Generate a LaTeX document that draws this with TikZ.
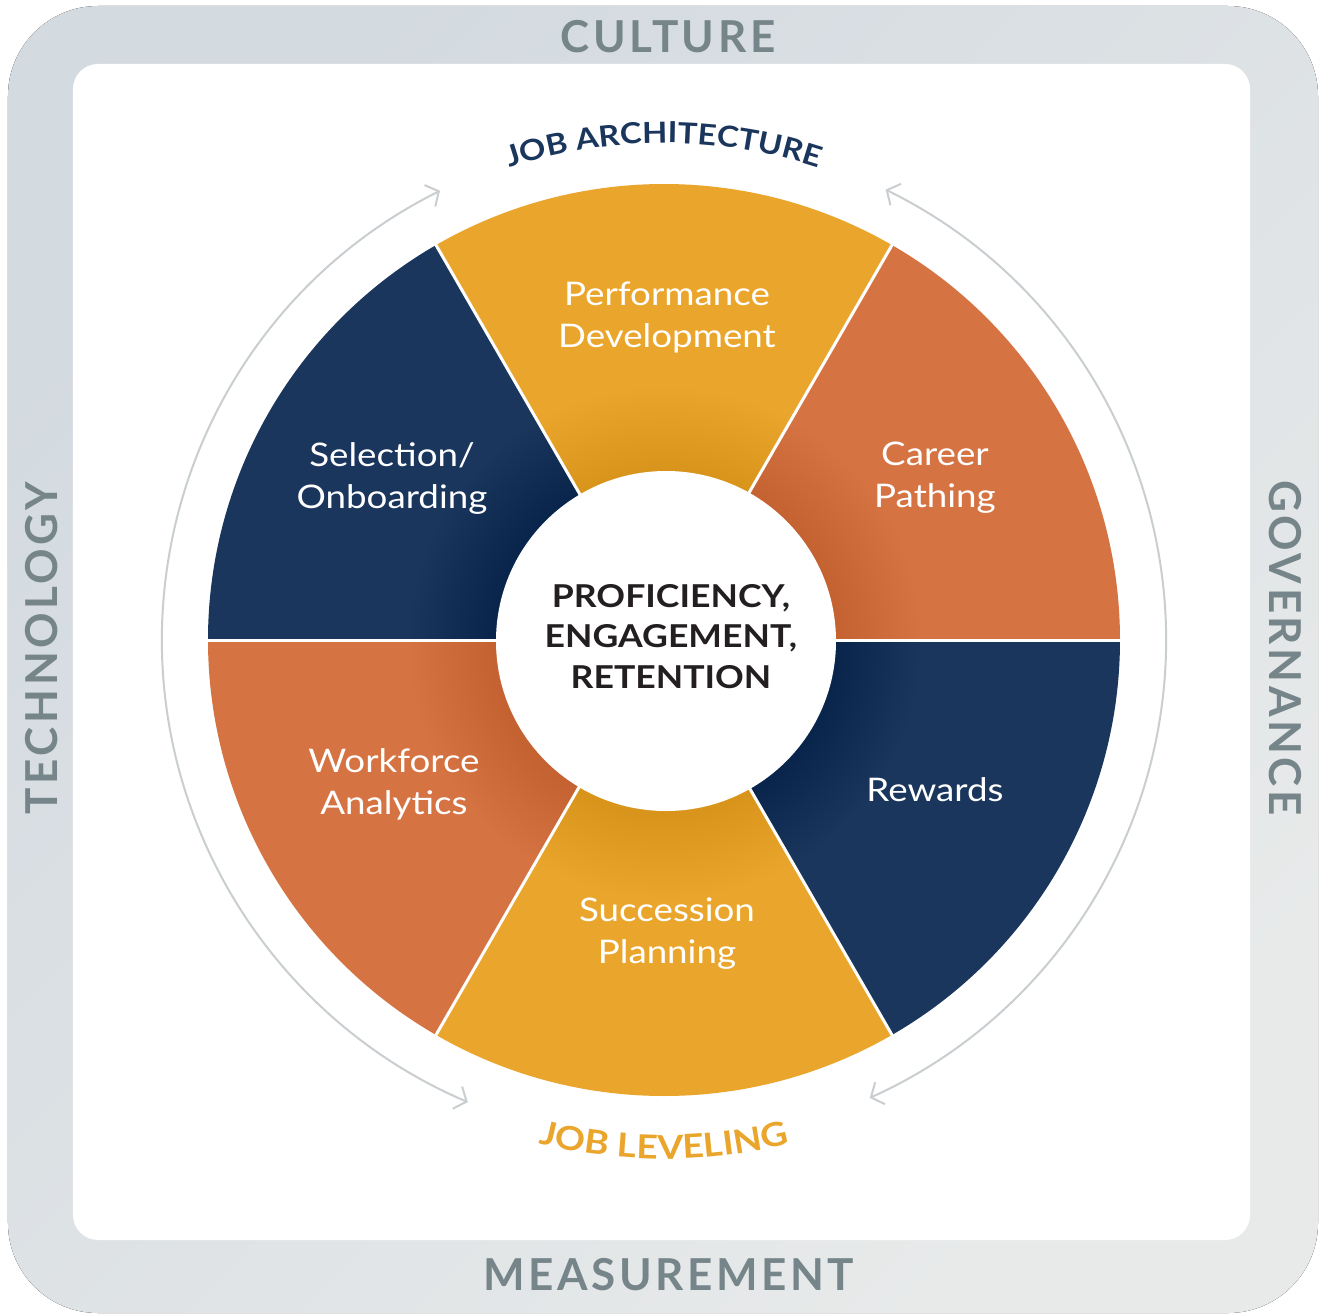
\documentclass[tikz,border=0pt]{standalone}
\usepackage{fontspec}
\setmainfont{Lato}
\newfontfamily\wide[FakeStretch=1.13]{Lato}
\usetikzlibrary{arrows.meta,decorations.text}
\definecolor{navy}{HTML}{1A365D}
\definecolor{gold}{HTML}{EAA62C}
\definecolor{rust}{HTML}{D57343}
\definecolor{arcgray}{HTML}{C9CED1}
\definecolor{frameA}{HTML}{D3DAE0}
\definecolor{frameB}{HTML}{E8EAEA}
\definecolor{labelgray}{HTML}{76858A}
\definecolor{ink}{HTML}{231F20}
\begin{document}
\begin{tikzpicture}[x=1pt,y=1pt,
  seglabel/.style={text=white,font=\wide\fontsize{32.5}{42}\selectfont,align=center,inner sep=0pt},
  framelabel/.style={text=labelgray,font=\fontsize{44}{44}\selectfont\bfseries\addfontfeatures{LetterSpace=8},inner sep=0pt},
  hubstyle/.style={circle,fill=white,minimum size=340pt,inner sep=0pt},
  hubtextstyle/.style={text=ink,align=center,font=\wide\fontsize{31.5}{40.5}\selectfont\bfseries},
  cyclearrow/.style={draw=arcgray,line width=2pt,
    {Straight Barb[length=10pt,width=24pt]}-{Straight Barb[length=10pt,width=24pt]}},
  divider/.style={white,line width=3pt}
]
\useasboundingbox (-664,-675) rectangle (660,640);
% frame
\fill[rounded corners=90pt,top color=frameA,bottom color=frameB,shading angle=45]
  (-656,-673) rectangle (654,634);
\fill[white,rounded corners=25pt] (-591,-600) rectangle (586,576);
\node[framelabel] (culture) at (4,603) {CULTURE};
\node[framelabel] (measure) at (5,-635) {MEASUREMENT};
\node[framelabel,rotate=90] (tech) at (-622,-8) {TECHNOLOGY};
\node[framelabel,rotate=-90] (gov) at (621,-8) {GOVERNANCE};
% wheel sectors
\foreach \a/\col in {0/rust,60/gold,120/navy,180/rust,240/gold,300/navy}
  \fill[\col] (0,0) -- (\a:456) arc[start angle=\a,end angle=\a+60,radius=456] -- cycle;
% shadow of hub
\begin{scope}
  \clip (0,0) circle (456);
  \foreach \r in {255,250,...,175} \fill[black,opacity=0.005] (1,-3) circle (\r);
\end{scope}
\foreach \a in {0,60,...,300} \draw[divider] (0,0) -- (\a:458);
% hub
\node[hubstyle] (hub) at (2,-1) {};
\node[hubtextstyle] (hubtext) at (7,3.5) {PROFICIENCY,\\ENGAGEMENT,\\RETENTION};
% segment labels
\node[seglabel] (perf) at (3,323) {Performance\\Development};
\node[seglabel] (sel) at (-272,162) {Selection/\\Onboarding};
\node[seglabel] (career) at (271,162) {Career\\Pathing};
\node[seglabel] (work) at (-270,-144) {Workforce\\Analytics};
\node[seglabel] (rew) at (271,-150) {Rewards};
\node[seglabel] (succ) at (3,-294) {Succession\\Planning};
% cycle arrows
\coordinate (la) at (116.5:502);
\coordinate (ra) at (63.8:502);
\draw[cyclearrow] (la) arc[start angle=116.5,end angle=247,radius=502];
\draw[cyclearrow] (ra) arc[start angle=63.8,end angle=-65.8,radius=502];
% curved titles
\path[decorate,decoration={text along path,text align=center,text color=navy,
  text={|\wide\fontsize{29}{29}\selectfont\bfseries|JOB ARCHITECTURE}}]
  (118:497) arc[start angle=118,end angle=62,radius=497];
\path[decorate,decoration={text along path,text align=center,text color=gold,
  text={|\wide\fontsize{33}{33}\selectfont\bfseries|JOB LEVELING}}]
  (245:519) arc[start angle=245,end angle=295,radius=519];
\end{tikzpicture}
\end{document}
